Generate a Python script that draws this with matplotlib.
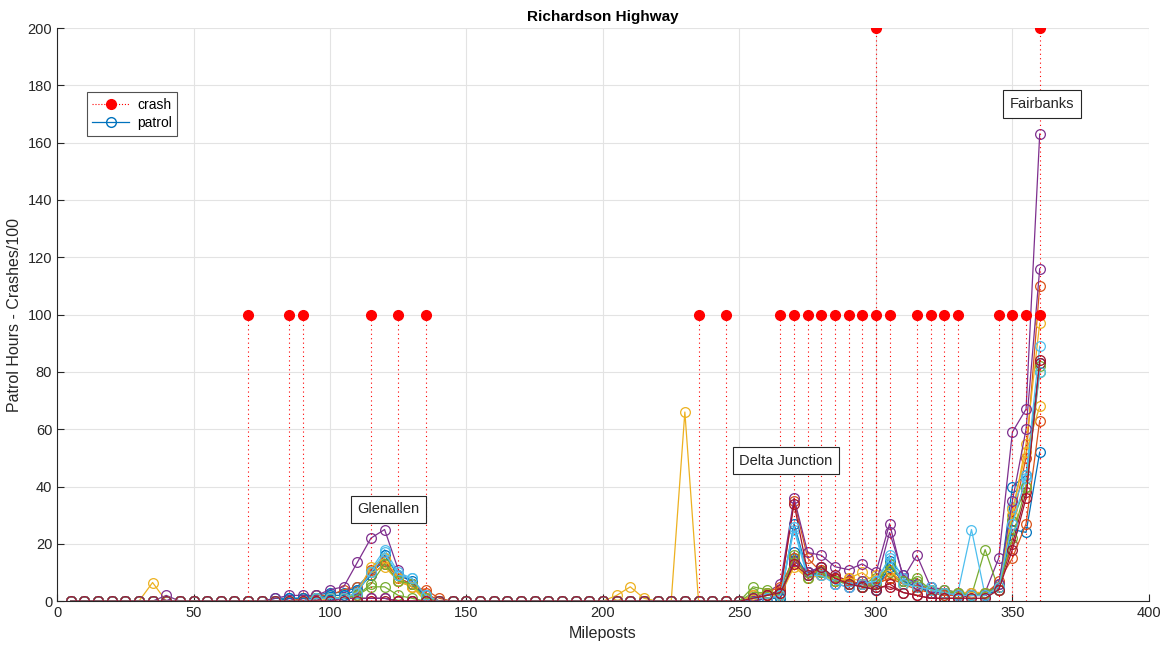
import matplotlib
matplotlib.use("Agg")
import matplotlib.pyplot as plt
from matplotlib.lines import Line2D

plt.rcParams['font.family'] = ['Liberation Sans', 'DejaVu Sans']

mileposts = list(range(5, 365, 5))

crash_mp = [70, 85, 90, 115, 125, 135, 235, 245, 265, 270, 275, 280, 285, 290,
            295, 300, 300, 305, 315, 320, 325, 330, 345, 350, 355, 360, 360]
crash_val = [100, 100, 100, 100, 100, 100, 100, 100, 100, 100, 100, 100, 100, 100,
             100, 100, 200, 100, 100, 100, 100, 100, 100, 100, 100, 100, 200]

# patrol hours per milepost (5..360), one list per patrol period
patrol = [
    # 1 blue
    [0, 0, 0, 0, 0, 0, 0, 0, 0, 0,
     0, 0, 0, 0, 0, 1, 1, 1, 2, 3,
     3, 5, 10, 14, 8, 6, 2, 0, 0, 0,
     0, 0, 0, 0, 0, 0, 0, 0, 0, 0,
     0, 0, 0, 0, 0, 0, 0, 0, 0, 0,
     0, 1, 1, 27, 10, 12, 8, 7, 5, 4,
     14, 9, 5, 5, 3, 2, 2, 2, 4, 40,
     44, 83],
    # 2 orange
    [0, 0, 0, 0, 0, 0, 0, 0, 0, 0,
     0, 0, 0, 0, 0, 0, 0, 1, 2, 2,
     4, 5, 9, 13, 7, 5, 4, 1, 0, 0,
     0, 0, 0, 0, 0, 0, 0, 0, 0, 0,
     0, 0, 0, 0, 0, 0, 0, 0, 0, 0,
     1, 2, 3, 35, 15, 10, 8, 6, 5, 5,
     10, 7, 6, 4, 3, 2, 2, 3, 6, 28,
     50, 110],
    # 3 yellow
    [0, 0, 0, 0, 0, 0, 6.5, 0, 0, 0,
     0, 0, 0, 0, 0, 0, 0, 0, 1, 1,
     1, 3, 10, 12, 7, 5, 0, 0, 0, 0,
     0, 0, 0, 0, 0, 0, 0, 0, 0, 0,
     2, 5, 1, 0, 0, 66, 0, 0, 0, 0,
     1, 2, 2, 12, 8, 10, 7, 8, 10, 6,
     8, 7, 5, 3, 3, 2, 2, 2, 5, 30,
     55, 97],
    # 4 purple
    [0, 0, 0, 0, 0, 0, 0, 2, 0, 0,
     0, 0, 0, 0, 0, 1, 2, 2, 2, 4,
     5, 13.5, 22, 25, 11, 6, 2, 0, 0, 0,
     0, 0, 0, 0, 0, 0, 0, 0, 0, 0,
     0, 0, 0, 0, 0, 0, 0, 0, 0, 0,
     1, 3, 6, 36, 17, 16, 12, 11, 13, 10,
     27, 8, 16, 5, 4, 3, 3, 3, 15, 59,
     67, 163],
    # 5 green
    [0, 0, 0, 0, 0, 0, 0, 0, 0, 0,
     0, 0, 0, 0, 0, 0, 0, 0, 1, 1,
     1, 2, 5, 5, 2, 1, 0, 0, 0, 0,
     0, 0, 0, 0, 0, 0, 0, 0, 0, 0,
     0, 0, 0, 0, 0, 0, 0, 0, 0, 0,
     5, 4, 2, 15, 9, 11, 8, 7, 6, 8,
     10, 6, 7, 4, 4, 3, 2, 18, 4, 28,
     40, 80],
    # 6 cyan
    [0, 0, 0, 0, 0, 0, 0, 0, 0, 0,
     0, 0, 0, 0, 0, 0, 0, 0, 1, 2,
     2, 4, 11, 18, 10, 8, 2, 0, 0, 0,
     0, 0, 0, 0, 0, 0, 0, 0, 0, 0,
     0, 0, 0, 0, 0, 0, 0, 0, 0, 0,
     0, 1, 2, 25, 8, 10, 6, 5, 7, 5,
     16, 8, 6, 5, 3, 3, 25, 2, 6, 33,
     44, 89],
    # 7 maroon
    [0, 0, 0, 0, 0, 0, 0, 0, 0, 0,
     0, 0, 0, 0, 0, 0, 0, 0, 0, 0,
     1, 1, 1, 1, 0, 0, 0, 0, 0, 0,
     0, 0, 0, 0, 0, 0, 0, 0, 0, 0,
     0, 0, 0, 0, 0, 0, 0, 0, 0, 0,
     1, 2, 4, 34, 10, 9, 9, 7, 6, 5,
     5, 3, 2, 1, 1, 1, 2, 2, 5, 20,
     38, 83],
    # 8 blue
    [0, 0, 0, 0, 0, 0, 0, 0, 0, 0,
     0, 0, 0, 0, 0, 0, 1, 1, 1, 2,
     2, 4, 9, 16, 9, 7, 1, 0, 0, 0,
     0, 0, 0, 0, 0, 0, 0, 0, 0, 0,
     0, 0, 0, 0, 0, 0, 0, 0, 0, 0,
     0, 1, 1, 17, 9, 10, 7, 6, 5, 4,
     12, 7, 5, 3, 2, 2, 2, 2, 4, 25,
     24, 52],
    # 9 orange
    [0, 0, 0, 0, 0, 0, 0, 0, 0, 0,
     0, 0, 0, 0, 0, 0, 0, 0, 1, 1,
     1, 3, 11, 14, 8, 6, 3, 0, 0, 0,
     0, 0, 0, 0, 0, 0, 0, 0, 0, 0,
     0, 0, 0, 0, 0, 0, 0, 0, 0, 0,
     2, 3, 5, 15, 9, 11, 8, 7, 6, 6,
     8, 6, 4, 3, 2, 2, 2, 2, 7, 15,
     27, 63],
    # 10 yellow
    [0, 0, 0, 0, 0, 0, 0, 0, 0, 0,
     0, 0, 0, 0, 0, 0, 0, 0, 0, 1,
     1, 3, 12, 15, 8, 5, 1, 0, 0, 0,
     0, 0, 0, 0, 0, 0, 0, 0, 0, 0,
     0, 0, 0, 0, 0, 0, 0, 0, 0, 0,
     2, 3, 2, 13, 8, 9, 7, 8, 7, 9,
     11, 6, 5, 4, 3, 3, 3, 3, 4, 32,
     52, 68],
    # 11 purple
    [0, 0, 0, 0, 0, 0, 0, 0, 0, 0,
     0, 0, 0, 0, 0, 0, 0, 0, 0, 0,
     1, 1, 1, 1, 0, 0, 0, 0, 0, 0,
     0, 0, 0, 0, 0, 0, 0, 0, 0, 0,
     0, 0, 0, 0, 0, 0, 0, 0, 0, 0,
     0, 1, 2, 14, 10, 12, 6, 5, 7, 6,
     24, 9, 6, 3, 3, 2, 2, 2, 6, 35,
     60, 116],
    # 12 green
    [0, 0, 0, 0, 0, 0, 0, 0, 0, 0,
     0, 0, 0, 0, 0, 0, 0, 0, 1, 1,
     1, 2, 6, 13, 7, 6, 1, 0, 0, 0,
     0, 0, 0, 0, 0, 0, 0, 0, 0, 0,
     0, 0, 0, 0, 0, 0, 0, 0, 0, 0,
     3, 3, 2, 16, 8, 10, 7, 6, 5, 6,
     13, 7, 8, 4, 3, 3, 2, 3, 5, 22,
     40, 82],
    # 13 cyan
    [0, 0, 0, 0, 0, 0, 0, 0, 0, 0,
     0, 0, 0, 0, 0, 0, 0, 0, 1, 1,
     1, 3, 10, 17, 9, 8, 2, 0, 0, 0,
     0, 0, 0, 0, 0, 0, 0, 0, 0, 0,
     0, 0, 0, 0, 0, 0, 0, 0, 0, 0,
     1, 1, 2, 26, 9, 9, 6, 5, 6, 7,
     15, 6, 5, 4, 3, 2, 2, 2, 5, 27,
     43, 80],
    # 14 maroon
    [0, 0, 0, 0, 0, 0, 0, 0, 0, 0,
     0, 0, 0, 0, 0, 0, 0, 0, 0, 0,
     0, 0, 0, 0, 0, 0, 0, 0, 0, 0,
     0, 0, 0, 0, 0, 0, 0, 0, 0, 0,
     0, 0, 0, 0, 0, 0, 0, 0, 0, 0,
     1, 2, 3, 13, 9, 12, 8, 6, 5, 4,
     6, 3, 2, 1, 1, 1, 1, 1, 4, 18,
     36, 84],
]

towns = ["Glenallen", "Delta Junction", "Fairbanks"]
town_x = [110, 250, 349]
town_y = [32, 49, 173.5]

matlab_colors = ["#0072BD", "#D95319", "#EDB120", "#7E2F8E",
                 "#77AC30", "#4DBEEE", "#A2142F"]
ink = "#262626"

fig = plt.figure(figsize=(11.69, 6.52), dpi=100)
ax = fig.add_axes([0.0488, 0.078, 0.934, 0.879])

for i, series in enumerate(patrol):
    ax.plot(mileposts, series, "-o", color=matlab_colors[i % 7], lw=0.9,
            markersize=7, markerfacecolor="none", markeredgewidth=0.9)

ax.vlines(crash_mp, 0, crash_val, colors="red", linestyles=(0, (1, 3)), lw=0.8)
ax.plot(crash_mp, crash_val, "o", color="red", markersize=7, zorder=5)

for t, x, y in zip(towns, town_x, town_y):
    ax.text(x, y, t, fontsize=10.5, va="center", ha="left", color=ink,
            bbox=dict(boxstyle="square,pad=0.45", fc="white", ec=ink, lw=0.8))

ax.set_xlim(0, 400)
ax.set_ylim(0, 200)
ax.set_xticks(range(0, 401, 50))
ax.set_yticks(range(0, 201, 20))
ax.grid(True, color="#e3e3e3", lw=0.8)
ax.set_axisbelow(True)
ax.spines["top"].set_visible(False)
ax.spines["right"].set_visible(False)
ax.spines["left"].set_color(ink)
ax.spines["bottom"].set_color(ink)
ax.tick_params(direction="in", length=5, labelsize=10.5, colors=ink)

ax.set_title("Richardson Highway", fontsize=11, fontweight="bold", pad=5)
ax.set_xlabel("Mileposts", fontsize=11.5, color=ink)
ax.set_ylabel("Patrol Hours - Crashes/100", fontsize=11.5, color=ink)

handles = [
    Line2D([], [], color="red", ls=":", lw=0.8, marker="o", markersize=7,
           markevery=[1]),
    Line2D([], [], color="#0072BD", lw=0.9, marker="o", markersize=7,
           markerfacecolor="none"),
]
leg = ax.legend(handles, ["crash", "patrol"], loc="upper left",
                bbox_to_anchor=(0.021, 0.9), fancybox=False, edgecolor=ink,
                fontsize=10, handlelength=2.6, borderpad=0.4, labelspacing=0.3,
                handletextpad=0.6)
leg.get_frame().set_linewidth(0.8)

fig.savefig("out.png", dpi=100)
